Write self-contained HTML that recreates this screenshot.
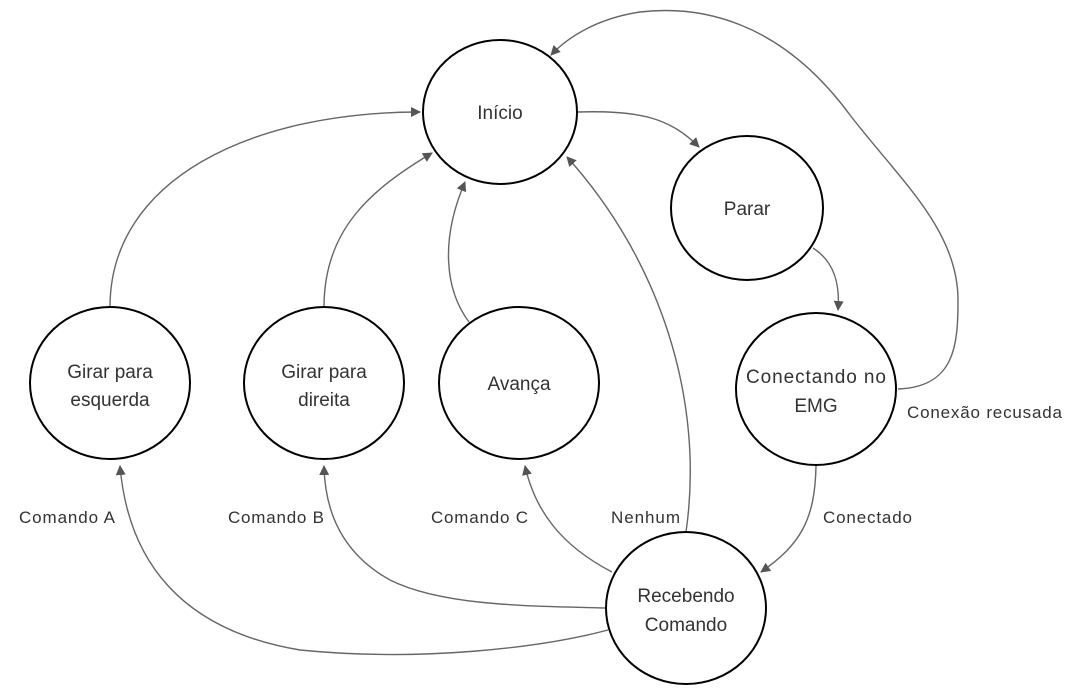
<!DOCTYPE html>
<html><head><meta charset="utf-8"><style>
html,body{margin:0;padding:0;background:#fff;}
svg{display:block;font-family:"Liberation Sans",sans-serif;}
</style></head><body>
<svg width="1075" height="692" viewBox="0 0 1075 692" xmlns="http://www.w3.org/2000/svg">
<defs><marker id="a" viewBox="0 0 10 10" refX="9" refY="5" markerWidth="10" markerHeight="10" orient="auto-start-reverse" markerUnits="userSpaceOnUse"><path d="M0,0 L10,5 L0,10 z" fill="#555"/></marker></defs>
<g fill="none" stroke="#666" stroke-width="1.4" marker-end="url(#a)">
<path d="M110,307 C110,180 250,112 420,112"/>
<path d="M324,307 C324,230 370,190 432,153"/>
<path d="M469,322 C445,290 440,240 465,182"/>
<path d="M686,532 C705,400 660,260 567,157"/>
<path d="M577,112 C640,110 670,118 699,147"/>
<path d="M813,248 C835,262 840,285 838,310"/>
<path d="M898,389 C955,387 958,345 958,300 C958,230 900,180 850,115 C780,20 700,5 640,12 C600,18 570,35 551,55"/>
<path d="M816,466 C815,520 800,545 761,572"/>
<path d="M612,572 C560,545 535,510 525,466"/>
<path d="M606,608 C520,606 440,605 390,580 C345,555 325,515 324,466"/>
<path d="M608,630 C540,648 420,662 300,650 C180,630 128,560 120,466"/>
</g>
<g fill="#fff" stroke="#000" stroke-width="2">
<ellipse cx="500" cy="112" rx="77" ry="72"/>
<ellipse cx="747" cy="208" rx="76" ry="72"/>
<ellipse cx="816" cy="389" rx="80" ry="76"/>
<ellipse cx="686" cy="608" rx="80" ry="76"/>
<ellipse cx="110" cy="383" rx="80" ry="76"/>
<ellipse cx="324" cy="383" rx="80" ry="76"/>
<ellipse cx="519" cy="383" rx="80" ry="76"/>
</g>
<g font-size="19" fill="#333" text-anchor="middle">
<text x="500" y="119">Início</text>
<text x="747" y="215">Parar</text>
<text x="816" y="383" textLength="140">Conectando no</text><text x="816" y="412">EMG</text>
<text x="686" y="602">Recebendo</text><text x="686" y="631">Comando</text>
<text x="110" y="378">Girar para</text><text x="110" y="406">esquerda</text>
<text x="324" y="378">Girar para</text><text x="324" y="406">direita</text>
<text x="519" y="390">Avança</text>
</g>
<g font-size="17" fill="#333">
<text x="19" y="523" textLength="96">Comando A</text>
<text x="228" y="523" textLength="96">Comando B</text>
<text x="431" y="523" textLength="97">Comando C</text>
<text x="611" y="523" textLength="69">Nenhum</text>
<text x="823" y="523" textLength="89">Conectado</text>
<text x="907" y="418" textLength="155">Conexão recusada</text>
</g>
</svg>
</body></html>
